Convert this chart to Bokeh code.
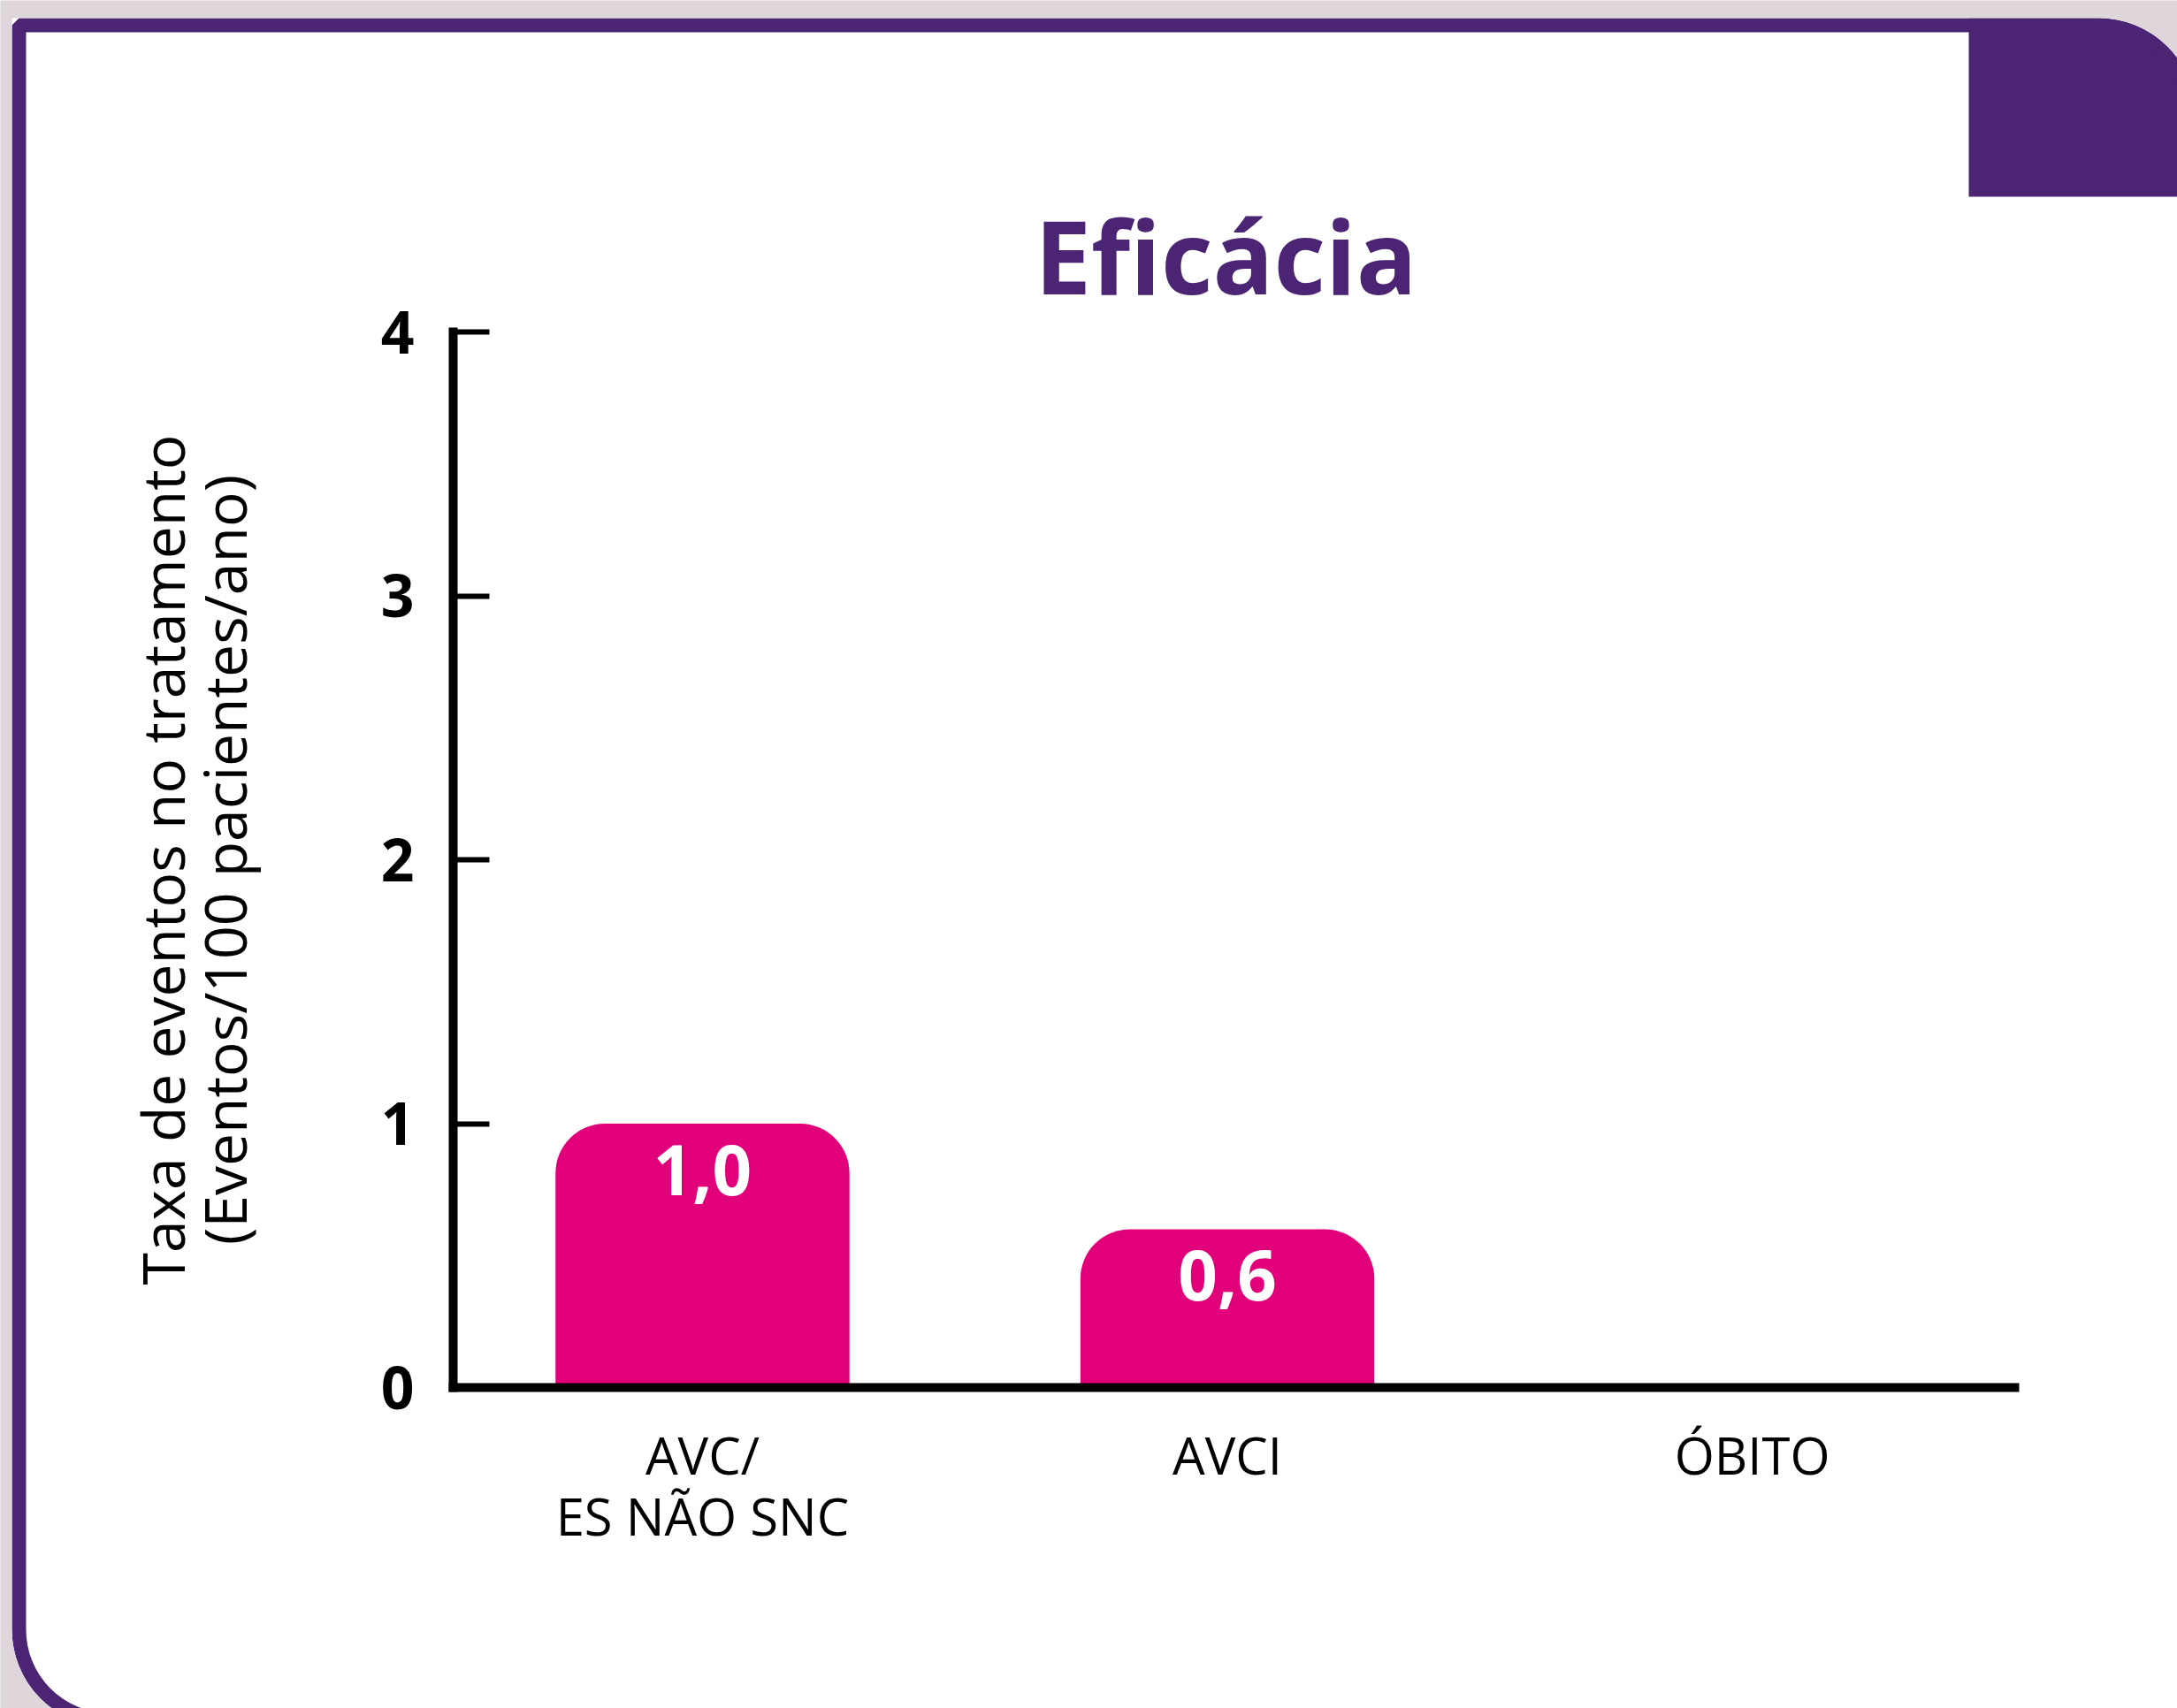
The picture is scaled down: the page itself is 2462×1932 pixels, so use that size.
from bokeh.plotting import figure
from bokeh.models import Range1d, FixedTicker
from bokeh.core.properties import value
from bokeh.embed import file_html
from bokeh.resources import INLINE

# ---- data ----
categories = ["AVC/\nES NÃO SNC", "AVCI", "ÓBITO"]
rates = [1.0, 0.6, 0.0]
bar_labels = ["1,0", "0,6", ""]
y_ticks = [0, 1, 2, 3, 4]
title_text = "Eficácia"
y_title = "Taxa de eventos no tratamento\n(Eventos/100 pacientes/ano)"

# ---- style ----
PURPLE = "#4C2474"
MAGENTA = "#E2007A"
PINK_BG = "#DFD6DC"
FONT = "Open Sans"
W, H = 2462, 1932

xs = [i + 0.5 for i in range(len(categories))]

# frame covers the whole canvas; data ranges chosen so that the plot area
# spans x:[0.025, 3] -> px 512..2278 and y:[0, 4] -> px 1569..375
PX_X = 593.6
PX_Y = 298.5
x0, y0 = 512, 1569
x_start = 0.025 - x0 / PX_X
x_end = x_start + W / PX_X
y_start = -(H - y0) / PX_Y
y_end = y_start + H / PX_Y

p = figure(width=W, height=H, x_range=Range1d(x_start, x_end), y_range=Range1d(y_start, y_end),
           output_backend="svg", toolbar_location=None)
p.min_border = 0
p.outline_line_color = None
p.grid.visible = False
p.background_fill_color = "white"
p.border_fill_color = "white"

# page-pixel ranges for the decorative frame (y measured upward from bottom)
p.extra_x_ranges = {"px": Range1d(0, W)}
p.extra_y_ranges = {"px": Range1d(0, H)}

def cy(v):
    return H - v

# ---- page frame decoration ----
p.quad(left=[2226], right=[2483], top=[cy(20)], bottom=[cy(222)],
       fill_color=PURPLE, line_color=None, border_radius=(0, 110, 0, 0),
       x_range_name="px", y_range_name="px")
p.quad(left=[21], right=[2475], top=[cy(28)], bottom=[cy(1945)],
       fill_color=None, line_color=PURPLE, line_width=16, border_radius=(0, 102, 0, 102),
       x_range_name="px", y_range_name="px")
p.quad(left=[13 - 120], right=[2483 + 120], top=[cy(20 - 120)], bottom=[cy(1953 + 120)],
       fill_color=None, line_color=PINK_BG, line_width=240, border_radius=(0, 230, 0, 230),
       x_range_name="px", y_range_name="px")

# ---- title ----
p.text(x=[1386], y=[cy(288)], text=[title_text], text_align="center", text_baseline="alphabetic",
       text_color=PURPLE, text_font=value(FONT), text_font_style="bold", text_font_size="114px",
       x_range_name="px", y_range_name="px")

# ---- axes ----
yax = p.yaxis[0]
yax.fixed_location = 0.025
yax.bounds = (0, 4)
yax.ticker = FixedTicker(ticks=y_ticks)
yax.axis_line_width = 10
yax.axis_line_color = "black"
yax.axis_line_cap = "square"
yax.major_tick_in = 41
yax.major_tick_out = 0
yax.major_tick_line_width = 6
yax.major_tick_line_color = "black"
yax.minor_tick_line_color = None
yax.major_label_text_font = FONT
yax.major_label_text_font_size = "66px"
yax.major_label_text_font_style = "bold"
yax.major_label_text_color = "black"
yax.major_label_standoff = 44
yax.axis_label = y_title
yax.axis_label_text_font = FONT
yax.axis_label_text_font_size = "66px"
yax.axis_label_text_font_style = "normal"
yax.axis_label_text_color = "black"
yax.axis_label_text_line_height = 0.78
yax.axis_label_standoff = 130

xax = p.xaxis[0]
xax.fixed_location = 0
xax.bounds = (0.025, 3.0)
xax.ticker = FixedTicker(ticks=xs)
xax.major_label_overrides = {x: c for x, c in zip(xs, categories)}
xax.axis_line_width = 10
xax.axis_line_color = "black"
xax.axis_line_cap = "square"
xax.major_tick_in = 0
xax.major_tick_out = 0
xax.minor_tick_line_color = None
xax.major_label_text_font = FONT
xax.major_label_text_font_size = "58px"
xax.major_label_text_color = "black"
xax.major_label_text_line_height = 0.88
xax.major_label_standoff = 36

# ---- bars ----
p.vbar(x=xs, top=rates, bottom=0, width=0.56, fill_color=MAGENTA, line_color=None,
       border_radius=(56, 56, 0, 0))
p.text(x=xs, y=rates, text=bar_labels, text_align="center", text_baseline="middle",
       y_offset=52, text_color="white", text_font=value(FONT), text_font_style="bold",
       text_font_size="78px")

open("out.html", "w").write(file_html(p, INLINE))
